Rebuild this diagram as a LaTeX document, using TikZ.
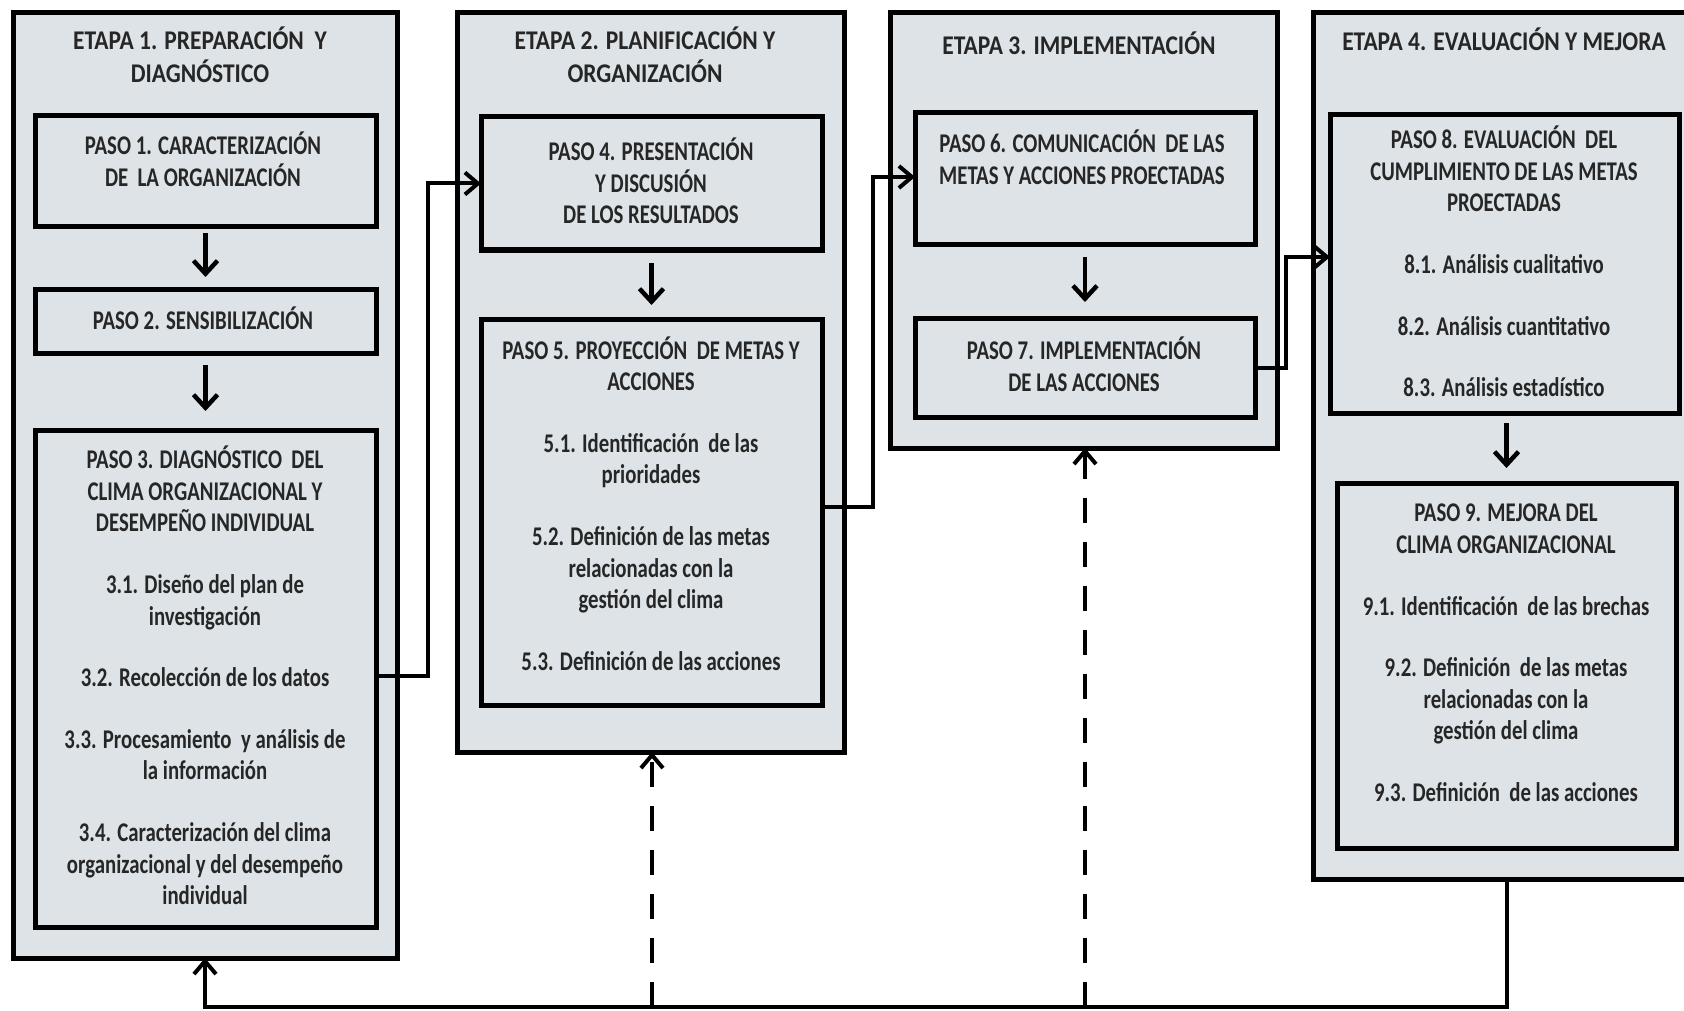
\documentclass[tikz,border=0pt]{standalone}
\usepackage{fontspec}
\usetikzlibrary{arrows.meta}
\newfontfamily\calfont{Carlito}[FakeStretch=0.77]
\newfontfamily\calwide{Carlito}[FakeStretch=0.87]
\definecolor{boxfill}{RGB}{221,227,230}
\definecolor{txtcol}{RGB}{38,38,38}
\tikzset{
  stagebox/.style={draw=black, line width=5pt, fill=boxfill, rectangle, inner sep=0pt, outer sep=0pt},
  stepbox/.style={draw=black, line width=5pt, fill=boxfill, rectangle, inner sep=0pt, outer sep=0pt},
  txt/.style={align=center, text=txtcol, inner sep=0pt, font=\calfont\bfseries\fontsize{27}{31.6}\selectfont},
  ttl/.style={align=center, text=txtcol, inner sep=0pt, font=\calwide\bfseries\fontsize{27}{33}\selectfont},
  link/.style={draw=black, line width=4pt, -{Straight Barb[length=13pt,width=22pt]}},
  flow/.style={draw=black, line width=4.5pt, -{Straight Barb[length=13pt,width=24pt]}},
  dlink/.style={link, dash pattern=on 25pt off 19pt},
}
\begin{document}
\begin{tikzpicture}[x=1pt,y=-1pt]
\clip (0,0) rectangle (1684,1011);
\fill[white] (0,0) rectangle (1684,1011);
% stages
\node[stagebox, minimum width=384pt, minimum height=945pt] (s1) at (205,485.5) {};
\node[stagebox, minimum width=387pt, minimum height=739pt] (s2) at (650.5,382.5) {};
\node[stagebox, minimum width=387pt, minimum height=435pt] (s3) at (1083.5,230.5) {};
\node[stagebox, minimum width=387pt, minimum height=866pt] (s4) at (1506.5,446) {};
% steps
\node[stepbox, minimum width=341pt, minimum height=111pt] (p1) at (205.5,171.5) {};
\node[stepbox, minimum width=341pt, minimum height=64pt] (p2) at (205.5,321) {};
\node[stepbox, minimum width=341pt, minimum height=497pt] (p3) at (205.5,678.5) {};
\node[stepbox, minimum width=341pt, minimum height=133pt] (p4) at (651.5,183.5) {};
\node[stepbox, minimum width=341pt, minimum height=386pt] (p5) at (651.5,512) {};
\node[stepbox, minimum width=340pt, minimum height=132pt] (p6) at (1085,179) {};
\node[stepbox, minimum width=340pt, minimum height=99pt] (p7) at (1085,367.5) {};
\node[stepbox, minimum width=349pt, minimum height=298pt] (p8) at (1504.5,264) {};
\node[stepbox, minimum width=339pt, minimum height=365pt] (p9) at (1506.5,665.5) {};
% titles
\node[ttl] (t1) at (200,55) {ETAPA 1. PREPARACIÓN~~Y\\DIAGNÓSTICO};
\node[ttl] (t2) at (645,55) {ETAPA 2. PLANIFICACIÓN Y\\ORGANIZACIÓN};
\node[ttl] (t3) at (1079,43) {ETAPA 3. IMPLEMENTACIÓN};
\node[ttl] (t4) at (1504,39) {ETAPA 4. EVALUACIÓN Y MEJORA};
% step texts
\node[txt] (x1) at (203,159.5) {PASO 1. CARACTERIZACIÓN\\DE~~LA ORGANIZACIÓN};
\node[txt] (x2) at (203,318) {PASO 2. SENSIBILIZACIÓN};
\node[txt] (x3) at (205,675.5) {PASO 3. DIAGNÓSTICO~~DEL\\CLIMA ORGANIZACIONAL Y\\DESEMPEÑO INDIVIDUAL\\[30pt]3.1. Diseño del plan de\\investigación\\[30pt]3.2. Recolección de los datos\\[30pt]3.3. Procesamiento~~y análisis de\\la información\\[30pt]3.4. Caracterización del clima\\organizacional y del desempeño\\individual};
\node[txt] (x4) at (651,181) {PASO 4. PRESENTACIÓN\\Y DISCUSIÓN\\DE LOS RESULTADOS};
\node[txt] (x5) at (651,503.5) {PASO 5. PROYECCIÓN~~DE METAS Y\\ACCIONES\\[30pt]5.1. Identificación~~de las\\prioridades\\[30pt]5.2. Definición de las metas\\relacionadas con la\\gestión del clima\\[30pt]5.3. Definición de las acciones};
\node[txt] (x6) at (1082,157) {PASO 6. COMUNICACIÓN~~DE LAS\\METAS Y ACCIONES PROECTADAS};
\node[txt] (x7) at (1084,364) {PASO 7. IMPLEMENTACIÓN\\DE LAS ACCIONES};
\node[txt] (x8) at (1504,261.5) {PASO 8. EVALUACIÓN~~DEL\\CUMPLIMIENTO DE LAS METAS\\PROECTADAS\\[30pt]8.1. Análisis cualitativo\\[30pt]8.2. Análisis cuantitativo\\[30pt]8.3. Análisis estadístico};
\node[txt] (x9) at (1506,653) {PASO 9. MEJORA DEL\\CLIMA ORGANIZACIONAL\\[30pt]9.1. Identificación~~de las brechas\\[30pt]9.2. Definición~~de las metas\\relacionadas con la\\gestión del clima\\[30pt]9.3. Definición~~de las acciones};
% arrows inside stages
\draw[flow, shorten <=6pt, shorten >=12pt] (p1.south) -- (p2.north);
\draw[flow, shorten <=12pt, shorten >=19pt] (p2.south) -- (p3.north);
\draw[flow, shorten <=13pt, shorten >=14pt] (p4.south) -- (p5.north);
\draw[flow, shorten <=12pt, shorten >=16pt] (p6.south) -- (p7.north);
\draw[flow, shorten <=10pt, shorten >=15pt] ([xshift=2pt]p8.south) -- ([xshift=2pt]p8.south |- p9.north);
% connectors between stages
\draw[link] ([yshift=3pt]p3.east) -- ++(52,0) |- (p4.west);
\draw[link] ([yshift=5pt]p5.east) -- ++(51,0) |- ([yshift=2pt]p6.west);
\draw[link] (p7.east) -- ++(31,0) |- ([yshift=7pt]p8.west);
% feedback
\coordinate (fb) at (0,1007);
\draw[link] (s4.south) -- (s4.south |- fb) -| (s1.south);
\draw[dlink] ([xshift=1.5pt]s2.south |- fb) -- ([xshift=1.5pt]s2.south);
\draw[dlink] ([xshift=1.5pt]s3.south |- fb) -- ([xshift=1.5pt]s3.south);
\end{tikzpicture}
\end{document}
